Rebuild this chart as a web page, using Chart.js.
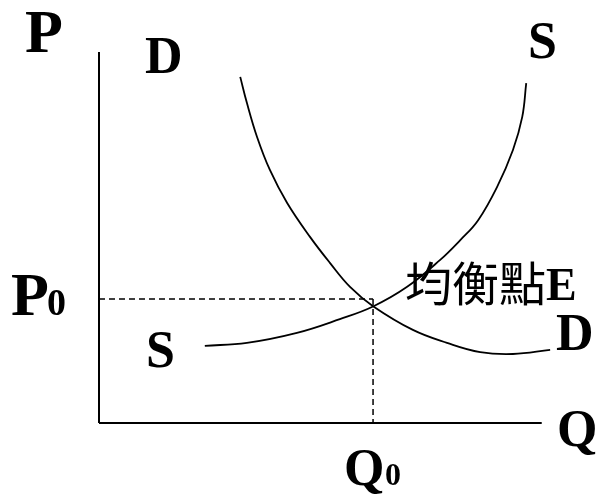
<!DOCTYPE html>
<html>
<head>
<meta charset="utf-8">
<script src="https://cdn.jsdelivr.net/npm/chart.js@4"></script>
<style>
html,body{margin:0;padding:0;background:#fff;}
canvas{display:block;}
</style>
</head>
<body>
<canvas id="c" width="598" height="498" style="width:598px;height:498px"></canvas>
<script>
// Supply curve S (quantity, price)
const supplyQ = [2.39, 3.34, 4.47, 5.44, 6.19, 6.96, 7.70, 8.16, 8.56, 8.99, 9.35, 9.56, 9.65];
const supplyP = [2.08, 2.16, 2.43, 2.80, 3.14, 3.67, 4.39, 4.93, 5.46, 6.36, 7.36, 8.25, 9.16];
// Demand curve D (quantity, price)
const demandQ = [3.19, 3.34, 3.57, 3.86, 4.25, 4.77, 5.22, 5.67, 6.19, 7.09, 7.86, 8.61, 9.35, 10.19];
const demandP = [9.33, 8.63, 7.71, 6.82, 5.93, 5.01, 4.31, 3.67, 3.15, 2.51, 2.16, 1.91, 1.86, 1.97];
// Equilibrium
const Q0 = 6.19;
const P0 = 3.34;
// Axis extents
const axisQmax = 10;
const axisPmax = 10;

const toPts = (xs, ys) => xs.map((x, i) => ({x: x, y: ys[i]}));

const labelPlugin = {
  id: 'labels',
  afterDatasetsDraw(chart) {
    const ctx = chart.ctx;
    ctx.save();
    ctx.fillStyle = '#000';
    ctx.textBaseline = 'alphabetic';
    ctx.textAlign = 'left';
    const big = 'bold 62px "Liberation Serif"';
    const mid = 'bold 52px "Liberation Serif"';
    ctx.font = big; ctx.fillText('P', 25, 52);
    ctx.font = big; ctx.fillText('P', 11, 315);
    ctx.font = 'bold 38px "Liberation Serif"'; ctx.fillText('0', 47, 315);
    ctx.font = mid; ctx.fillText('D', 145, 73);
    ctx.font = mid; ctx.fillText('S', 528, 58);
    ctx.font = mid; ctx.fillText('S', 146, 367);
    ctx.font = mid; ctx.fillText('D', 556, 350);
    ctx.font = mid; ctx.fillText('Q', 557, 446);
    ctx.font = mid; ctx.fillText('Q', 344, 485);
    ctx.font = 'bold 32px "Liberation Serif"'; ctx.fillText('0', 385, 485);
    ctx.font = '47px "Noto Sans CJK TC"'; ctx.fillText('均衡點', 405, 301);
    const w = ctx.measureText('均衡點').width;
    ctx.font = 'bold 46px "Liberation Serif"'; ctx.fillText('E', 405 + w, 300);
    ctx.restore();
  }
};

new Chart(document.getElementById('c'), {
  type: 'scatter',
  data: {
    datasets: [
      {data: [{x: 0, y: 0}, {x: 0, y: axisPmax}], showLine: true, borderColor: '#000', borderWidth: 2, pointRadius: 0},
      {data: [{x: 0, y: 0}, {x: axisQmax, y: 0}], showLine: true, borderColor: '#000', borderWidth: 2, pointRadius: 0},
      {data: [{x: 0, y: P0}, {x: Q0, y: P0}], showLine: true, borderColor: '#000', borderWidth: 1.5, borderDash: [6, 4], pointRadius: 0},
      {data: [{x: Q0, y: P0}, {x: Q0, y: 0}], showLine: true, borderColor: '#000', borderWidth: 1.5, borderDash: [6, 4], pointRadius: 0},
      {data: toPts(supplyQ, supplyP), showLine: true, borderColor: '#000', borderWidth: 1.8, pointRadius: 0, tension: 0.4},
      {data: toPts(demandQ, demandP), showLine: true, borderColor: '#000', borderWidth: 1.8, pointRadius: 0, tension: 0.4}
    ]
  },
  options: {
    responsive: false,
    devicePixelRatio: 1,
    animation: false,
    clip: false,
    layout: {padding: {left: 99, right: 12, top: 52, bottom: 75}},
    scales: {
      x: {type: 'linear', min: 0, max: 11, display: false},
      y: {type: 'linear', min: 0, max: 10, display: false}
    },
    plugins: {legend: {display: false}, tooltip: {enabled: false}}
  },
  plugins: [labelPlugin]
});
</script>
</body>
</html>
